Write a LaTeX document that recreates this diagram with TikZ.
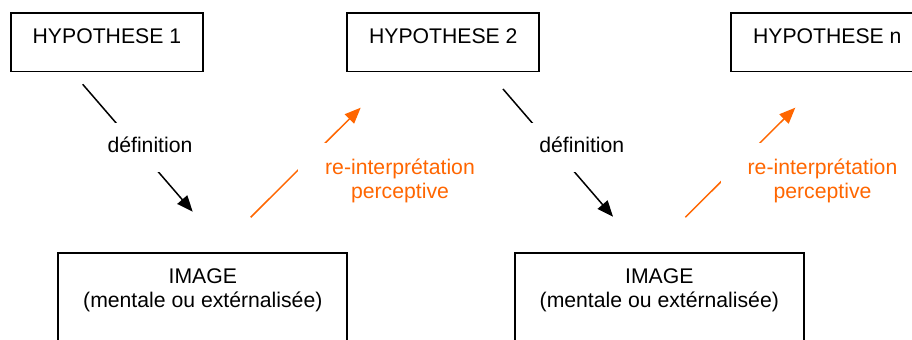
\documentclass[tikz,border=0pt]{standalone}
\usepackage{fontspec}
\setmainfont{Liberation Sans}
\usepackage{tikz}
\usetikzlibrary{arrows.meta, positioning, calc}
\definecolor{reorange}{RGB}{255,102,0}

\begin{document}
\begin{tikzpicture}[
        x=0.5pt, y=-0.5pt,
        % Global Styles
        every node/.style={font=\fontsize{10.6pt}{11.8pt}\selectfont},
        hypo/.style={rectangle, draw, line width=0.9pt, anchor=north, inner xsep=0pt, inner ysep=0pt, minimum width=96pt, text height=15.2pt, text depth=14pt},
        imgbox/.style={rectangle, draw, line width=0.9pt, anchor=north, align=center, inner xsep=0pt, inner ysep=0pt, minimum width=144.5pt, text height=27.2pt, text depth=40pt},
        deflabel/.style={fill=white, anchor=base, inner sep=0pt, minimum width=55pt, text height=14.8pt, text depth=9.6pt},
        relabel/.style={fill=white, text=reorange, anchor=north, align=center, inner sep=0pt, minimum width=102pt, text height=27.5pt, text depth=9.5pt},
        defarrow/.style={line width=0.75pt, -{Triangle[length=8pt, width=6.5pt]}},
        rearrow/.style={defarrow, reorange}
    ]
    \useasboundingbox (0,0) rectangle (912,340);

    % --- Hypotheses ---
    \node (Hyp1) [hypo] at (106.9,12.3) {HYPOTHESE 1};
    \node (Hyp2) [hypo] at (443.3,12.3) {HYPOTHESE 2};
    \node (HypN) [hypo] at (827.3,12.3) {HYPOTHESE n};

    % --- Images ---
    \node (Img1) [imgbox] at (202.8,252.3) {IMAGE\\(mentale ou extérnalisée)};
    \node (Img2) [imgbox] at (659.3,252.3) {IMAGE\\(mentale ou extérnalisée)};

    % --- Arrow ends ---
    \coordinate (def1s) at (82.7,84.3);
    \coordinate (def1e) at (192.7,211.7);
    \coordinate (re1s)  at (250.7,217.3);
    \coordinate (re1e)  at (360.7,107.7);
    \coordinate (def2s) at (503,89);
    \coordinate (def2e) at (613,216.7);
    \coordinate (re2s)  at (685.3,217.3);
    \coordinate (re2e)  at (795.3,107.7);

    % --- CONNECTIONS ---
    \draw [defarrow] (def1s) -- (def1e);
    \draw [rearrow] (re1s) -- (re1e);
    \draw [defarrow] (def2s) -- (def2e);
    \draw [rearrow] (re2s) -- (re2e);

    % Labels (white boxes cut the arrows)
    \node (Def1) [deflabel] at (150,152.7) {définition};
    \node (Re1) [relabel] at (400,143) {re-interprétation\\perceptive};
    \node (Def2) [deflabel] at (581.8,152.7) {définition};
    \node (Re2) [relabel] at (822.5,143) {re-interprétation\\perceptive};

\end{tikzpicture}
\end{document}
